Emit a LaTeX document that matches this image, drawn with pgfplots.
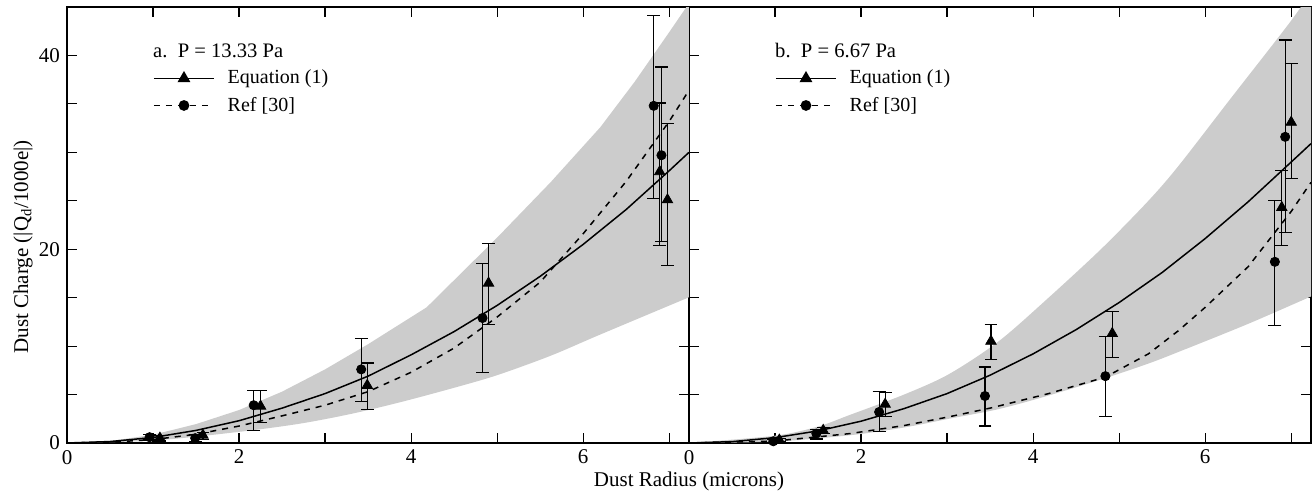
\documentclass[border=0pt]{standalone}
\usepackage{fontspec}
\setmainfont{Liberation Serif}
\usepackage{pgfplots}
\pgfplotsset{compat=1.18}
\usepgfplotslibrary{fillbetween}
\definecolor{band}{RGB}{204,204,204}

\pgfplotsset{
    dustpanel/.style={
        scale only axis,
        width=311pt, height=218pt,
        xmin=0, xmax=7.23, ymin=0, ymax=45,
        xtick={0,2,4,6}, minor xtick={1,3,5,7},
        ytick={0,20,40}, minor ytick={5,10,15,25,30,35},
        tick pos=both, tick align=inside,
        major tick length=5pt, minor tick length=5pt,
        every tick/.style={black, line width=0.6pt},
        axis line style={line width=0.7pt},
        tick label style={font=\fontsize{10.5}{12}\selectfont},
        /pgf/number format/assume math mode=true,
        legend image code/.code={
            \draw[mark repeat=2,mark phase=2,#1] plot coordinates {(0pt,0pt) (15pt,0pt) (30pt,0pt)};
        },
        legend style={draw=none, fill=none, inner sep=0pt,
            at={(axis description cs:0.138,0.805)}, anchor=west,
            font=\fontsize{10}{12}\selectfont, row sep=1pt,
            /tikz/every odd column/.append style={column sep=4.5pt}},
        legend cell align=left,
    },
    curve/.style={black, line width=0.75pt, forget plot},
    pts/.style={black, only marks, forget plot,
        error bars/y dir=both, error bars/y explicit,
        error bars/error mark=|,
        error bars/error bar style={line width=0.6pt, black},
        error bars/error mark options={line width=0.6pt, mark size=3.2pt, black}},
    tri/.style={mark=triangle*, mark size=3pt},
    dot/.style={mark=*, mark size=2.3pt},
}

\begin{document}
\begin{tikzpicture}

% panel a: P = 13.33 Pa
\begin{axis}[dustpanel, at={(0pt,0pt)}, anchor=south west,
    ylabel={Dust Charge (|Q\textsubscript{d}/1000e|)},
    ylabel style={at={(axis description cs:-0.0707,0.45)}, anchor=center,
        font=\fontsize{10.5}{12}\selectfont}]

\addplot[name path=upA, draw=none, forget plot] coordinates {
    (0,0) (0.5,0.2) (1,0.85) (1.5,1.95) (2,3.4) (2.5,5.3) (3,7.6) (3.5,10.2)
    (4.18,14.0) (5.0,21.2) (5.62,26.9) (6.2,32.6) (6.6,37.3) (7.0,42.4) (7.3,46.3)};
\addplot[name path=loA, draw=none, smooth, forget plot] coordinates {
    (0,0) (1,0.25) (2,1.15) (2.71,2.0) (3.3,3.0) (3.87,4.2) (4.5,5.7)
    (5.0,7.0) (5.62,9.0) (6.2,11.2) (7.3,15.3)};
\addplot[band, forget plot] fill between[of=upA and loA];

\addplot[curve] coordinates {
    (0,0) (0.5,0.15) (1,0.57) (1.5,1.3) (2,2.3) (2.5,3.6) (3,5.1) (3.5,6.9)
    (4,9.1) (4.5,11.5) (5,14.2) (5.5,17.2) (6,20.5) (6.5,24.1) (7,28.1) (7.23,30.0)};
\addplot[curve, dashed] coordinates {
    (0,0) (0.5,0.08) (1,0.35) (1.5,0.9) (2,1.75) (2.5,2.8) (3,3.9) (3.5,5.3)
    (4,7.3) (4.5,9.8) (5,13.0) (5.5,16.6) (6,21.6) (6.5,27.0) (7,33.2) (7.23,36.4)};

\addplot[pts, tri] coordinates {
    (1.08,0.5) += (0,0.3) -= (0,0.3)
    (1.58,0.8) += (0,0.3) -= (0,0.4)
    (2.25,3.8) += (0,1.6) -= (0,1.7)
    (3.49,5.95) += (0,2.3) -= (0,2.5)
    (4.90,16.5) += (0,4.1) -= (0,4.25)
    (6.89,28.0) += (0,7.1) -= (0,7.6)
    (6.98,25.1) += (0,7.9) -= (0,6.8)};
\addplot[pts, dot] coordinates {
    (0.96,0.6) += (0,0.3) -= (0,0.3)
    (1.49,0.5) += (0,0.4) -= (0,0.4)
    (2.17,3.9) += (0,1.5) -= (0,2.6)
    (3.42,7.6) += (0,3.2) -= (0,3.3)
    (4.83,12.9) += (0,5.6) -= (0,5.6)
    (6.82,34.8) += (0,9.3) -= (0,9.6)
    (6.91,29.7) += (0,9.1) -= (0,8.9)};

\addlegendimage{black, line width=0.75pt, tri}
\addlegendimage{black, line width=0.75pt, dashed, dot, mark options={solid}}
\legend{Equation (1), Ref [30]}

\node[anchor=base west, inner sep=0pt, font=\fontsize{10.3}{12}\selectfont]
    at (axis description cs:0.138,0.885) {a.\ \ P = 13.33 Pa};
\end{axis}

% panel b: P = 6.67 Pa
\begin{axis}[dustpanel, at={(311pt,0pt)}, anchor=south west, yticklabels={}]

\addplot[name path=upB, draw=none, smooth, forget plot] coordinates {
    (0,0) (1,0.75) (1.5,1.7) (1.87,2.9) (2.5,5.0) (3.02,7.1) (3.6,10.5)
    (4.18,15.0) (4.8,20.1) (5.34,25.0) (5.69,28.6) (6.3,35.6) (7.0,43.6) (7.3,47.5)};
\addplot[name path=loB, draw=none, smooth, forget plot] coordinates {
    (0,0) (1,0.15) (1.87,0.8) (2.5,1.6) (3.02,2.5) (3.6,3.5) (4.18,4.9)
    (4.84,6.7) (5.34,8.2) (5.69,9.4) (6.5,12.3) (7.3,15.4)};
\addplot[band, forget plot] fill between[of=upB and loB];

\addplot[curve] coordinates {
    (0,0) (0.5,0.14) (1,0.55) (1.5,1.25) (2,2.25) (2.5,3.55) (3,5.1) (3.5,7.0)
    (4,9.2) (4.5,11.7) (5,14.5) (5.5,17.6) (6,21.1) (6.5,24.9) (7,29.0) (7.23,30.9)};
\addplot[curve, dashed] coordinates {
    (0,0) (1,0.2) (1.87,0.97) (2.5,1.8) (3.02,2.7) (3.5,3.6) (4.18,5.1)
    (4.84,6.8) (5.34,9.2) (5.69,11.6) (6.0,14.0) (6.5,18.2) (7.0,23.9) (7.23,26.9)};

\addplot[pts, tri] coordinates {
    (1.05,0.3) += (0,0.2) -= (0,0.2)
    (1.56,1.3) += (0,0.3) -= (0,0.3)
    (2.28,4.0) += (0,1.2) -= (0,1.3)
    (3.51,10.5) += (0,1.7) -= (0,1.9)
    (4.92,11.3) += (0,2.3) -= (0,2.5)
    (6.89,24.3) += (0,3.8) -= (0,3.9)
    (7.00,33.1) += (0,6.1) -= (0,5.8)};
\addplot[pts, dot] coordinates {
    (0.98,0.18) += (0,0.2) -= (0,0.2)
    (1.48,0.97) += (0,0.45) -= (0,0.55)
    (2.21,3.2) += (0,2.1) -= (0,2.0)
    (3.44,4.85) += (0,3.0) -= (0,3.1)
    (4.84,6.9) += (0,4.1) -= (0,4.15)
    (6.81,18.7) += (0,6.3) -= (0,6.6)
    (6.93,31.6) += (0,10.0) -= (0,9.9)};

\addlegendimage{black, line width=0.75pt, tri}
\addlegendimage{black, line width=0.75pt, dashed, dot, mark options={solid}}
\legend{Equation (1), Ref [30]}

\node[anchor=base west, inner sep=0pt, font=\fontsize{10.3}{12}\selectfont]
    at (axis description cs:0.138,0.885) {b.\ \ P = 6.67 Pa};
\end{axis}

\node[anchor=base, font=\fontsize{10.5}{12}\selectfont] at (311pt,-21.6pt) {Dust Radius (microns)};

\pgfresetboundingbox
\path (-33.5pt,-25pt) rectangle (622.5pt,221.5pt);
\end{tikzpicture}
\end{document}
